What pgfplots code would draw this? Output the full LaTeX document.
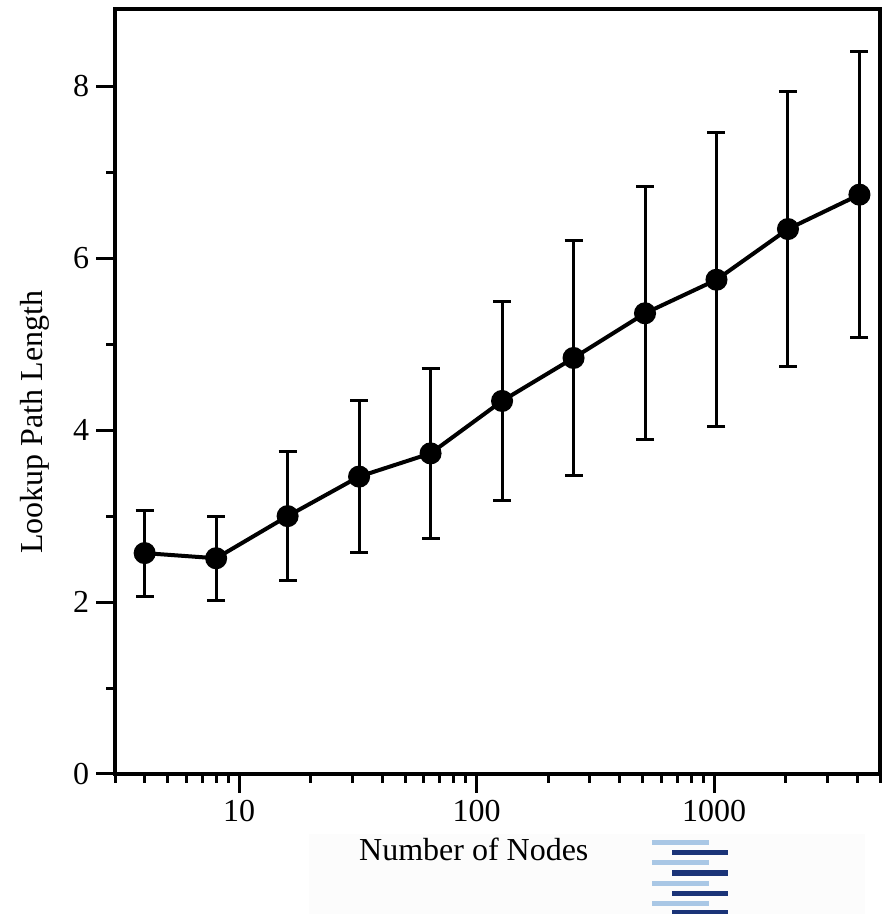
\documentclass[border=0pt]{standalone}
\usepackage{pgfplots}
\pgfplotsset{compat=1.18}
\usepackage{fontspec}
\setmainfont{Liberation Serif}
\definecolor{logolight}{HTML}{A9C7E5}
\definecolor{logodark}{HTML}{1B3478}
\definecolor{faintbg}{HTML}{FCFCFC}
\pgfplotstableread{
x y e
4 2.57 0.50
8 2.51 0.49
16 3.00 0.75
32 3.46 0.88
64 3.73 0.99
128 4.34 1.16
256 4.84 1.37
512 5.36 1.47
1024 5.75 1.71
2048 6.34 1.60
4096 6.74 1.66
}\datatable
\begin{document}
\begin{tikzpicture}[x=1pt,y=1pt]
\path[use as bounding box] (-57.5,-70) rectangle (385,387);
\fill[faintbg] (97,-70) rectangle (375,-30);
\foreach \yy in {-34.5,-44.5,-54.5,-64.5} {\fill[logolight] (268.5,\yy-1.25) rectangle (297,\yy+1.25);}
\foreach \yy in {-39.5,-49.5,-59.5,-69} {\fill[logodark] (278.5,\yy-1.25) rectangle (306.5,\yy+1.25);}
\begin{axis}[
  at={(0,0)}, anchor=south west, scale only axis,
  width=382.5pt, height=382.5pt,
  xmode=log, xmin=3, xmax=5000, ymin=0, ymax=8.9,
  tick pos=left, tick align=outside,
  axis line style={line width=2pt},
  every tick/.style={line width=1.5pt, black},
  major tick length=9.5pt, minor tick length=4.5pt,
  ytick={0,2,4,6,8}, minor ytick={1,3,5,7},
  xtick={10,100,1000}, xticklabels={10,100,1000},
  minor xtick={3,4,5,6,7,8,9,20,30,40,50,60,70,80,90,200,300,400,500,600,700,800,900,2000,3000,4000,5000},
  /pgf/number format/assume math mode=true,
  ticklabel style={font=\fontsize{16}{19}\selectfont},
  label style={font=\fontsize{16}{19}\selectfont},
  xlabel={Number of Nodes},
  ylabel={Lookup Path Length},
  xlabel style={at={(axis description cs:0.469,-0.099)}, anchor=center},
  ylabel style={at={(axis description cs:-0.105,0.46)}, anchor=center},
]
\addplot[black, line width=2pt, mark=*, mark size=4.5pt,
  error bars/.cd, y dir=both, y explicit,
  error bar style={line width=1.5pt},
  error mark options={rotate=90, mark size=4.5pt, line width=1.5pt}]
  table[x=x, y=y, y error=e] {\datatable};
\end{axis}
\end{tikzpicture}
\end{document}
